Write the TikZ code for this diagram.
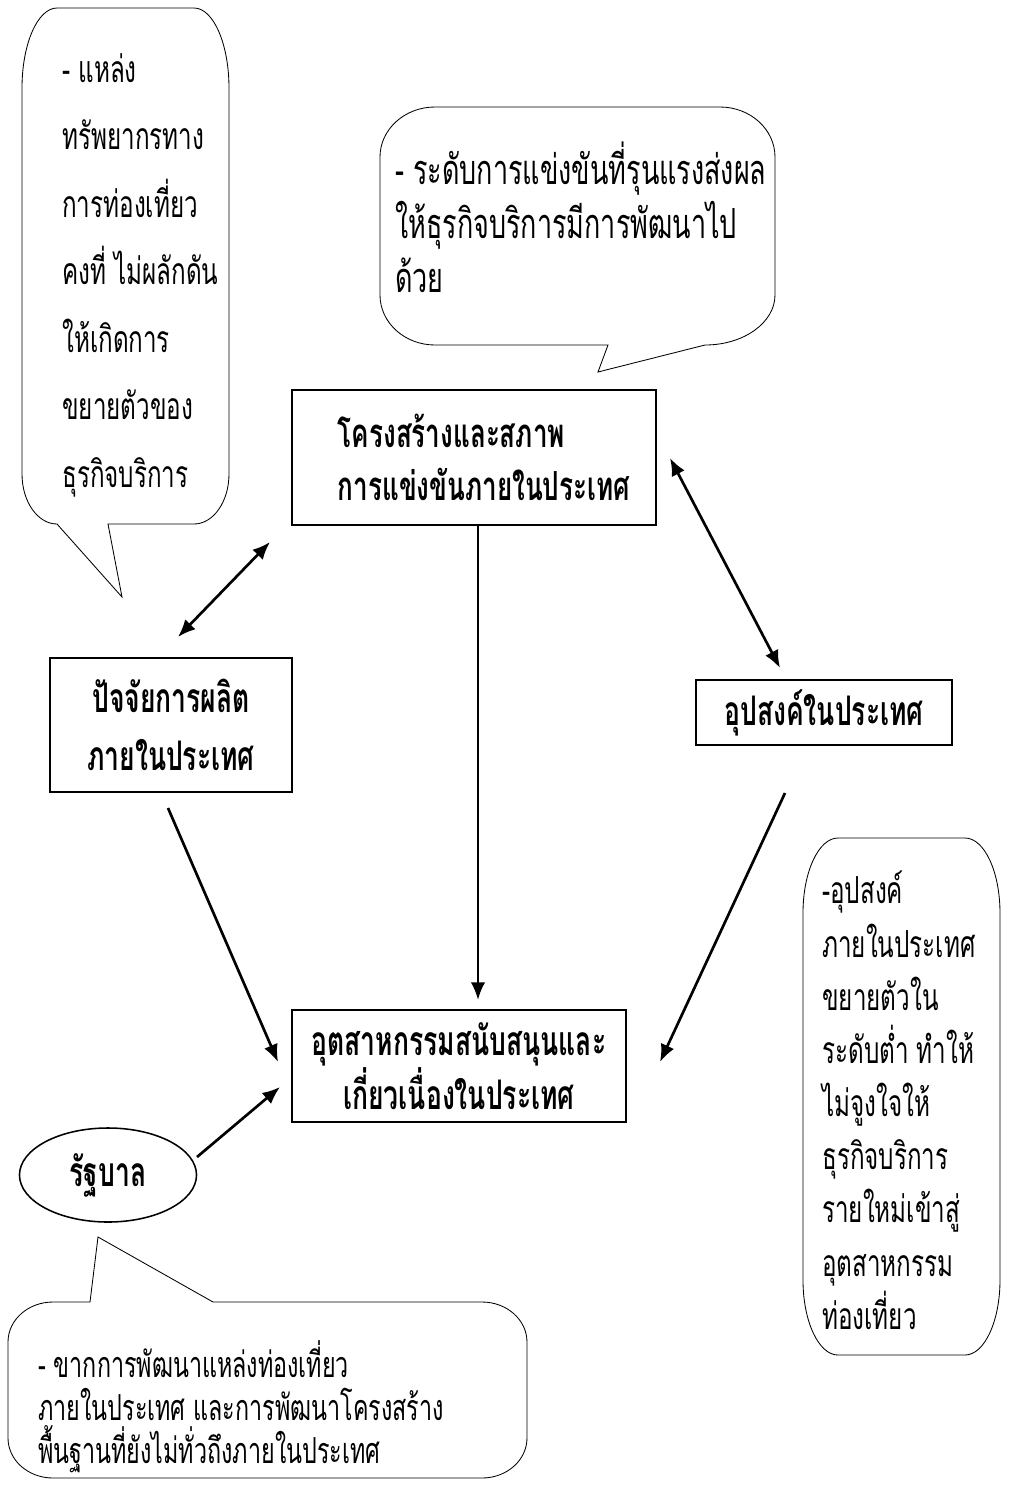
\documentclass[tikz,border=0pt]{standalone}
\usepackage{fontspec}
\newfontfamily\thai[Script=Thai,FakeStretch=0.65]{Loma}
\usetikzlibrary{arrows.meta,shapes.geometric}

\begin{document}
\begin{tikzpicture}[
  x=0.025cm, y=-0.025cm,
  bubble/.style={draw, line width=0.6pt, fill=white},
  note/.style={inner sep=0pt, anchor=north west, align=left},
  boxnode/.style={draw, line width=1.3pt, inner sep=0pt, align=center,
    font=\thai\bfseries\fontsize{29}{38}\selectfont},
  tip/.style={Latex[length=0.44cm,width=0.36cm]},
  arr/.style={line width=1.9pt, -{Latex[length=0.44cm,width=0.36cm]}},
  darr/.style={line width=1.9pt, {Latex[length=0.44cm,width=0.36cm]}-{Latex[length=0.44cm,width=0.36cm]}}
]
\useasboundingbox[fill=white] (0,0) rectangle (1012,1489);

% callout: tourism resources (top left)
\draw[bubble] (57,524) .. controls (37.7,524) and (22,501.6) .. (22,474)
  -- (22,88) .. controls (22,43.8) and (37.7,8) .. (57,8)
  -- (194,8) .. controls (213.3,8) and (229,43.8) .. (229,88)
  -- (229,474) .. controls (229,501.6) and (213.3,524) .. (194,524)
  -- (108,524) -- (122,597) -- cycle;
\node[note, font=\thai\fontsize{26.5}{48}\selectfont] (noteres) at (62,53)
  {- แหล่ง\\ทรัพยากรทาง\\การท่องเที่ยว\\คงที่ ไม่ผลักดัน\\ให้เกิดการ\\ขยายตัวของ\\ธุรกิจบริการ};

% callout: competition (top middle)
\draw[bubble] (608,345) -- (435,345) .. controls (404.6,345) and (380,322.6) .. (380,295)
  -- (380,157) .. controls (380,129.4) and (404.6,107) .. (435,107)
  -- (720,107) .. controls (750.4,107) and (775,129.4) .. (775,157)
  -- (775,295) .. controls (775,322.6) and (743.7,345) .. (705,345)
  -- (598,372) -- cycle;
\node[note, font=\thai\fontsize{29.5}{38.4}\selectfont] (notecomp) at (395,142)
  {- ระดับการแข่งขันที่รุนแรงส่งผล\\ให้ธุรกิจบริการมีการพัฒนาไป\\ด้วย};

% callout: government (bottom left)
\draw[bubble] (90,1302) -- (98,1237) -- (213,1302)
  -- (482,1302) .. controls (506.9,1302) and (527,1319.9) .. (527,1342)
  -- (527,1438) .. controls (527,1460.1) and (506.9,1478) .. (482,1478)
  -- (53,1478) .. controls (28.1,1478) and (8,1460.1) .. (8,1438)
  -- (8,1342) .. controls (8,1319.9) and (28.1,1302) .. (53,1302) -- cycle;
\node[note, font=\thai\fontsize{25.5}{30.6}\selectfont] (notegov) at (38,1340)
  {- ขากการพัฒนาแหล่งท่องเที่ยว\\ภายในประเทศ และการพัฒนาโครงสร้าง\\พื้นฐานที่ยังไม่ทั่วถึงภายในประเทศ};

% callout: domestic demand (right)
\draw[bubble] (838,838) -- (965,838) .. controls (984.3,838) and (1000,871.6) .. (1000,913)
  -- (1000,1280) .. controls (1000,1321.4) and (984.3,1355) .. (965,1355)
  -- (838,1355) .. controls (818.7,1355) and (803,1321.4) .. (803,1280)
  -- (803,913) .. controls (803,871.6) and (818.7,838) .. (838,838) -- cycle;
\node[note, font=\thai\fontsize{26.5}{37.8}\selectfont] (notedem) at (822,871)
  {-อุปสงค์\\ภายในประเทศ\\ขยายตัวใน\\ระดับต่ำ ทำให้\\ไม่จูงใจให้\\ธุรกิจบริการ\\รายใหม่เข้าสู่\\อุตสาหกรรม\\ท่องเที่ยว};

% diamond elements
\node[boxnode, align=left, text width=6.8cm, minimum width=9.1cm, minimum height=3.375cm,
  font=\thai\bfseries\fontsize{28.5}{38}\selectfont] (struct) at (474,457.5)
  {โครงสร้างและสภาพ\\การแข่งขันภายในประเทศ};
\node[boxnode, minimum width=6.05cm, minimum height=3.35cm,
  font=\thai\bfseries\fontsize{29}{41.3}\selectfont] (factor) at (171,725)
  {ปัจจัยการผลิต\\ภายในประเทศ};
\node[boxnode, minimum width=6.4cm, minimum height=1.625cm] (demand) at (824,712.5)
  {อุปสงค์ในประเทศ};
\node[boxnode, minimum width=8.35cm, minimum height=2.8cm] (support) at (459,1066)
  {อุตสาหกรรมสนับสนุนและ\\เกี่ยวเนื่องในประเทศ};
\node[draw, ellipse, line width=1.1pt, inner sep=0pt, minimum width=4.425cm, minimum height=2.35cm,
  font=\thai\bfseries\fontsize{29}{38}\selectfont] (gov) at (108,1175) {รัฐบาล};

% connector ends
\coordinate (sA) at (270,542);  \coordinate (fA) at (178,637);
\coordinate (sD) at (670,458);  \coordinate (dD) at (780,668);
\coordinate (sS) at (478,525);  \coordinate (tS) at (478,1000);
\coordinate (fS) at (168,808);  \coordinate (tF) at (278,1062);
\coordinate (dS) at (785,793);  \coordinate (tD) at (660,1062);
\coordinate (gS) at (197,1157); \coordinate (tG) at (280,1087);

\draw[darr] (sA) -- (fA);
\draw[darr] (sD) -- (dD);
\draw[arr] (sS) -- (tS);
\draw[arr] (fS) -- (tF);
\draw[arr] (dS) -- (tD);
\draw[arr] (gS) -- (tG);
\end{tikzpicture}
\end{document}
